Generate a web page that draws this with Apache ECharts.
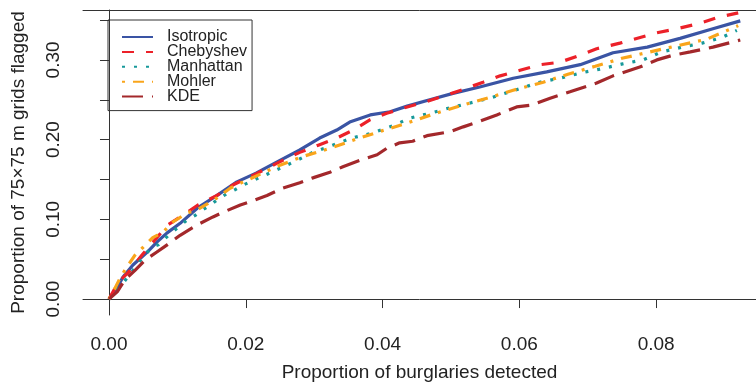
<!DOCTYPE html>
<html>
<head>
<meta charset="utf-8">
<script src="https://cdn.jsdelivr.net/npm/echarts@6/dist/echarts.min.js"></script>
<style>
  html, body { margin: 0; padding: 0; background: #fff; }
  #chart { width: 756px; height: 386px; }
</style>
</head>
<body>
<div id="chart"></div>
<script>
// values
const isoX = [0, 0.0013, 0.00205, 0.0035, 0.0056, 0.0070, 0.0085, 0.0104, 0.0129, 0.0158, 0.0187, 0.0215, 0.025, 0.0279, 0.0308, 0.0333, 0.0352, 0.0382, 0.0411, 0.0436, 0.0469, 0.0503, 0.0542, 0.0591, 0.064, 0.0689, 0.0737, 0.0787, 0.0835, 0.0883, 0.0923];
const isoY = [0, 0.016, 0.0276, 0.0427, 0.059, 0.0715, 0.083, 0.095, 0.114, 0.130, 0.147, 0.158, 0.174, 0.187, 0.202, 0.212, 0.222, 0.231, 0.235, 0.242, 0.250, 0.258, 0.266, 0.277, 0.285, 0.294, 0.309, 0.316, 0.327, 0.339, 0.349];

const chebX = [0, 0.0013, 0.0031, 0.0048, 0.0067, 0.0086, 0.0108, 0.013, 0.0158, 0.0181, 0.0215, 0.0254, 0.0279, 0.0306, 0.0333, 0.0357, 0.0382, 0.0406, 0.0436, 0.0465, 0.0494, 0.0518, 0.0547, 0.0572, 0.0601, 0.063, 0.0659, 0.0689, 0.0713, 0.0747, 0.0801, 0.0835, 0.0864, 0.0893, 0.092];
const chebY = [0, 0.020, 0.036, 0.055, 0.074, 0.093, 0.105, 0.118, 0.130, 0.143, 0.157, 0.174, 0.184, 0.193, 0.202, 0.212, 0.225, 0.233, 0.241, 0.248, 0.256, 0.263, 0.272, 0.280, 0.287, 0.294, 0.297, 0.306, 0.314, 0.321, 0.334, 0.340, 0.346, 0.354, 0.359];

const manX = [0, 0.0016, 0.0035, 0.005, 0.0063, 0.0072, 0.0082, 0.0101, 0.0114, 0.0126, 0.0137, 0.0148, 0.0159, 0.0172, 0.0184, 0.0196, 0.0209, 0.025, 0.0275, 0.0298, 0.0327, 0.0355, 0.0384, 0.0414, 0.044, 0.0469, 0.0499, 0.0528, 0.0557, 0.0586, 0.063, 0.0659, 0.0692, 0.0721, 0.0751, 0.0781, 0.0808, 0.0838, 0.0867, 0.0896, 0.0918];
const manY = [0, 0.015, 0.036, 0.053, 0.065, 0.068, 0.076, 0.090, 0.099, 0.105, 0.112, 0.118, 0.125, 0.132, 0.137, 0.143, 0.148, 0.164, 0.174, 0.184, 0.193, 0.202, 0.208, 0.217, 0.227, 0.233, 0.240, 0.246, 0.252, 0.260, 0.272, 0.277, 0.284, 0.289, 0.295, 0.300, 0.310, 0.316, 0.321, 0.328, 0.337];

const mohX = [0, 0.0009, 0.0016, 0.0026, 0.0038, 0.005, 0.0064, 0.0079, 0.0094, 0.0114, 0.0129, 0.0145, 0.0158, 0.0177, 0.0194, 0.0222, 0.025, 0.0284, 0.0323, 0.0363, 0.0399, 0.0437, 0.0474, 0.0516, 0.0557, 0.0591, 0.0635, 0.0671, 0.0711, 0.075, 0.0791, 0.0832, 0.0874, 0.0912, 0.092];
const mohY = [0, 0.014, 0.026, 0.040, 0.055, 0.065, 0.077, 0.084, 0.097, 0.108, 0.112, 0.120, 0.127, 0.139, 0.146, 0.157, 0.168, 0.179, 0.189, 0.201, 0.211, 0.221, 0.232, 0.243, 0.253, 0.262, 0.272, 0.282, 0.292, 0.302, 0.310, 0.318, 0.326, 0.340, 0.343];

const kdeX = [0, 0.0012, 0.0023, 0.0038, 0.0053, 0.007, 0.0085, 0.0104, 0.0129, 0.0152, 0.0167, 0.0192, 0.0206, 0.0231, 0.0254, 0.0279, 0.0298, 0.0323, 0.0342, 0.0367, 0.0392, 0.0406, 0.0425, 0.0444, 0.0465, 0.0499, 0.0518, 0.0542, 0.0567, 0.0596, 0.0616, 0.0645, 0.0674, 0.0713, 0.0737, 0.0776, 0.0801, 0.0825, 0.085, 0.0883, 0.0923];
const kdeY = [0, 0.009, 0.024, 0.036, 0.049, 0.059, 0.068, 0.080, 0.093, 0.103, 0.109, 0.118, 0.122, 0.130, 0.139, 0.146, 0.152, 0.159, 0.166, 0.174, 0.181, 0.189, 0.196, 0.198, 0.205, 0.210, 0.216, 0.223, 0.231, 0.241, 0.243, 0.252, 0.260, 0.271, 0.280, 0.291, 0.300, 0.306, 0.310, 0.316, 0.325];

const xTicks = [0, 0.02, 0.04, 0.06, 0.08];
const yTicks = [0, 0.05, 0.10, 0.15, 0.20, 0.25, 0.30, 0.35];
const yLabels = [0, 0.10, 0.20, 0.30];

const font = '"Liberation Sans", Arial, Helvetica, sans-serif';
const pairs = (xs, ys) => xs.map((x, i) => [x, ys[i]]);

const chart = echarts.init(document.getElementById('chart'));

const lineSeries = (name, xs, ys, color, dash) => ({
  name,
  type: 'line',
  data: pairs(xs, ys),
  symbol: 'none',
  color,
  lineStyle: { color, width: 3.2, type: dash, cap: 'butt' },
  silent: true
});

chart.setOption({
  animation: false,
  textStyle: { fontFamily: font },
  grid: { left: 83, top: 10, right: 0, bottom: 71, containLabel: false, outerBoundsMode: 'none' },
  legend: {
    orient: 'vertical',
    left: 108,
    top: 20,
    padding: [9, 5, 6, 13],
    borderColor: '#333',
    borderWidth: 1,
    itemWidth: 31,
    itemHeight: 14,
    itemGap: -1.1,
    itemStyle: { opacity: 0 },
    textStyle: { fontSize: 16, color: '#222', lineHeight: 14, fontFamily: font, padding: [0, 0, 0, 9] },
    data: ['Isotropic', 'Chebyshev', 'Manhattan', 'Mohler', 'KDE']
  },
  xAxis: [
    {
      type: 'value',
      min: -0.0038,
      max: 0.0946,
      name: 'Proportion of burglaries detected',
      nameLocation: 'middle',
      nameGap: 48,
      nameTextStyle: { fontSize: 19, color: '#222', fontFamily: font },
      axisLine: { show: true, lineStyle: { color: '#333', width: 1 } },
      axisTick: { show: true, customValues: xTicks, length: 9, lineStyle: { color: '#333' } },
      axisLabel: { customValues: xTicks, formatter: (v) => v.toFixed(2), fontSize: 19, color: '#222', margin: 20 },
      splitLine: { show: false }
    },
    {
      type: 'value',
      position: 'top',
      min: -0.0038,
      max: 0.0946,
      axisLine: { show: true, lineStyle: { color: '#333', width: 1 } },
      axisTick: { show: false },
      axisLabel: { show: false },
      splitLine: { show: false }
    }
  ],
  yAxis: {
    type: 'value',
    min: -0.020,
    max: 0.3626,
    name: 'Proportion of 75×75 m grids flagged',
    nameLocation: 'middle',
    nameRotate: 90,
    nameGap: 55,
    nameTextStyle: { fontSize: 19, color: '#222', fontFamily: font },
    axisLine: { show: true, lineStyle: { color: '#333', width: 1 } },
    axisTick: { show: true, customValues: yTicks, length: 9, lineStyle: { color: '#333' } },
    axisLabel: { customValues: yLabels, formatter: (v) => v.toFixed(2), fontSize: 19, color: '#222', rotate: 90, margin: 20 },
    splitLine: { show: false }
  },
  series: [
    lineSeries('Isotropic', isoX, isoY, '#3A54A4', 'solid'),
    lineSeries('Chebyshev', chebX, chebY, '#EC2129', [12, 12]),
    lineSeries('Manhattan', manX, manY, '#17999A', [3, 9]),
    lineSeries('Mohler', mohX, mohY, '#F9A51B', [3, 8, 11, 8]),
    lineSeries('KDE', kdeX, kdeY, '#A3282B', [21, 9])
  ]
});
</script>
</body>
</html>
